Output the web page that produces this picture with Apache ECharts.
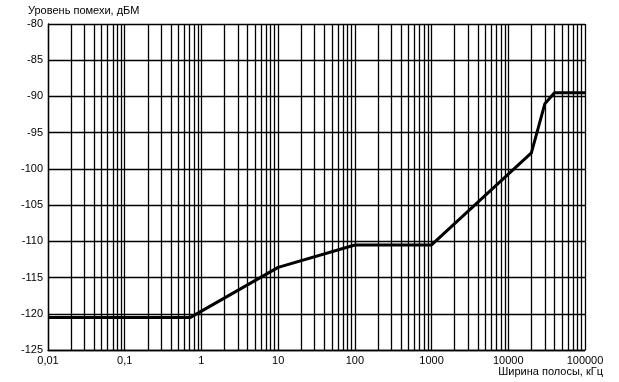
<!DOCTYPE html>
<html><head><meta charset="utf-8">
<script src="https://cdn.jsdelivr.net/npm/echarts@6/dist/echarts.min.js"></script>
<style>html,body{margin:0;padding:0;background:#fff}#c{width:619px;height:382px}</style>
</head><body><div id="c"></div>
<script>
const bandwidth = [0.01, 0.72, 10, 100, 1000, 20000, 30000, 40000, 100000];
const level = [-120.5, -120.5, -113.6, -110.5, -110.5, -97.8, -91, -89.5, -89.5];
const xTickLabels = ['0,01', '0,1', '1', '10', '100', '1000', '10000', '100000'];
const decades = [0.01, 0.1, 1, 10, 100, 1000, 10000];
const minorMultipliers = [2, 3, 4, 5, 6, 7, 8, 9];
const yTitle = 'Уровень помехи, дБМ';
const xTitle = 'Ширина полосы, кГц';

const minorLines = [];
decades.forEach(d => minorMultipliers.forEach(m => minorLines.push({ xAxis: +(d * m).toPrecision(6) })));

const font = 'Liberation Sans, Arial, sans-serif';
const chart = echarts.init(document.getElementById('c'), null, { renderer: 'canvas' });
chart.setOption({
  animation: false,
  backgroundColor: '#fff',
  grid: { left: 48, right: 34, top: 24, bottom: 32, containLabel: false },
  xAxis: {
    type: 'log', logBase: 10, min: 0.01, max: 100000,
    axisLine: { show: true, lineStyle: { color: '#000', width: 1.3 } },
    axisTick: { show: false },
    splitLine: { show: true, lineStyle: { color: '#000', width: 1.3 } },
    axisLabel: {
      color: '#000', fontFamily: font, fontSize: 11, margin: 5,
      formatter: v => xTickLabels[Math.round(Math.log10(v)) + 2]
    }
  },
  yAxis: {
    type: 'value', min: -125, max: -80, interval: 5,
    axisLine: { show: true, lineStyle: { color: '#000', width: 1.3 } },
    axisTick: { show: false },
    splitLine: { show: true, lineStyle: { color: '#000', width: 1.3 } },
    axisLabel: { color: '#000', fontFamily: font, fontSize: 11, margin: 5 }
  },
  graphic: [
    { type: 'text', left: 28, top: 5, style: { text: yTitle, fill: '#000', font: '11px ' + font } },
    { type: 'text', right: 16, top: 366, style: { text: xTitle, fill: '#000', font: '11px ' + font } }
  ],
  series: [{
    type: 'line',
    data: bandwidth.map((x, i) => [x, level[i]]),
    symbol: 'none',
    lineStyle: { color: '#000', width: 3 },
    z: 5,
    markLine: {
      silent: true, symbol: 'none', label: { show: false },
      lineStyle: { color: '#000', width: 1.3, type: 'solid' },
      data: minorLines,
      z: 1
    }
  }]
});
</script></body></html>
